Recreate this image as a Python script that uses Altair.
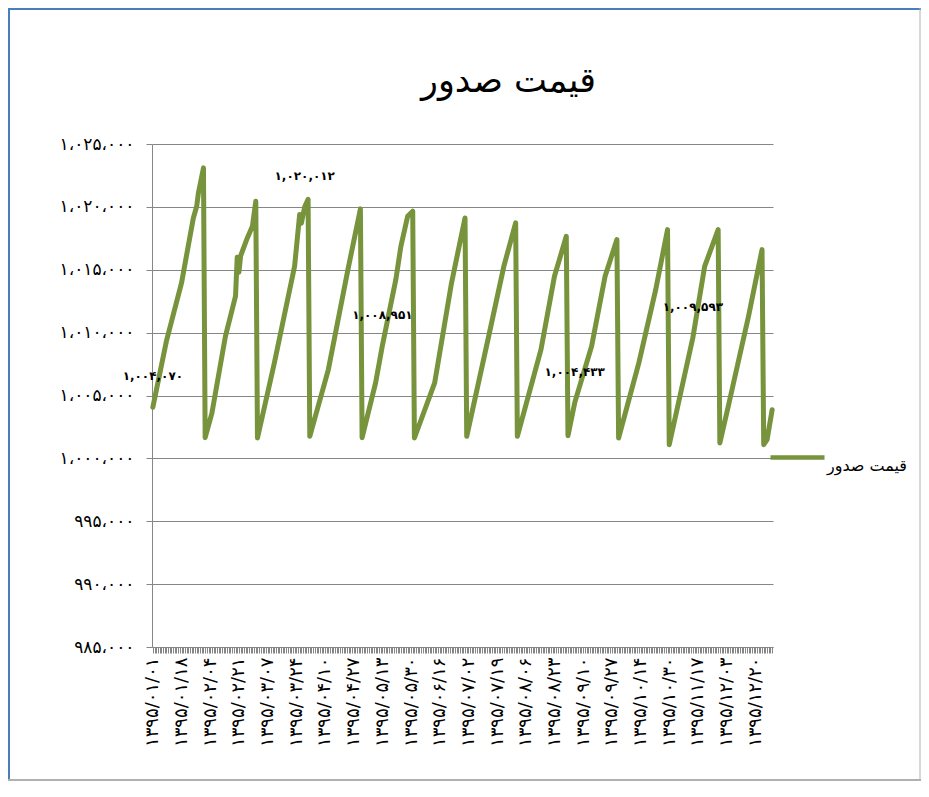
import json
import altair as alt
import pandas as pd

TITLE = "قیمت صدور"
SERIES = "قیمت صدور"
LINE_COLOR = "#77933C"
FONT = "DejaVu Sans"

# vertices of the series (day index, price)
day = [0, 8, 17, 24, 26, 27, 30,
       31, 35, 43, 49, 50, 51, 52, 56, 59, 61,
       62, 72, 84, 87, 88, 90, 92,
       93, 104, 116, 123,
       124, 132, 136, 144, 147, 151, 154,
       155, 167, 177, 185,
       186, 199, 208, 215,
       216, 230, 238, 245,
       246, 250, 260, 268, 275,
       276, 288, 298, 305,
       306, 320, 327, 335,
       336, 341, 353, 361,
       362, 364, 367]
price = [1004070, 1009300, 1013950, 1019120, 1020050, 1021110, 1023100,
         1001650, 1003600, 1009700, 1012900, 1016000, 1014800, 1016100, 1017530, 1018460, 1020450,
         1001620, 1007590, 1015270, 1019400, 1018700, 1020012, 1020600,
         1001750, 1007060, 1015270, 1019840,
         1001650, 1006000, 1008951, 1014220, 1016870, 1019250, 1019650,
         1001620, 1006000, 1013950, 1019120,
         1001750, 1009700, 1015270, 1018730,
         1001750, 1008650, 1014480, 1017660,
         1001800, 1004433, 1008910, 1014480, 1017400,
         1001620, 1007590, 1013420, 1018190,
         1001090, 1009593, 1015270, 1018190,
         1001220, 1004140, 1011300, 1016600,
         1001090, 1001500, 1003870]

n_days = 368
label_step = 17
x_tick_labels = ["۱۳۹۵/۰۱/۰۱", "۱۳۹۵/۰۱/۱۸", "۱۳۹۵/۰۲/۰۴", "۱۳۹۵/۰۲/۲۱",
                 "۱۳۹۵/۰۳/۰۷", "۱۳۹۵/۰۳/۲۴", "۱۳۹۵/۰۴/۱۰", "۱۳۹۵/۰۴/۲۷",
                 "۱۳۹۵/۰۵/۱۳", "۱۳۹۵/۰۵/۳۰", "۱۳۹۵/۰۶/۱۶", "۱۳۹۵/۰۷/۰۲",
                 "۱۳۹۵/۰۷/۱۹", "۱۳۹۵/۰۸/۰۶", "۱۳۹۵/۰۸/۲۳", "۱۳۹۵/۰۹/۱۰",
                 "۱۳۹۵/۰۹/۲۷", "۱۳۹۵/۱۰/۱۴", "۱۳۹۵/۱۰/۳۰", "۱۳۹۵/۱۱/۱۷",
                 "۱۳۹۵/۱۲/۰۳", "۱۳۹۵/۱۲/۲۰"]

y_ticks = [985000, 990000, 995000, 1000000, 1005000, 1010000, 1015000, 1020000, 1025000]
y_tick_labels = ["۹۸۵،۰۰۰", "۹۹۰،۰۰۰", "۹۹۵،۰۰۰", "۱،۰۰۰،۰۰۰", "۱،۰۰۵،۰۰۰",
                 "۱،۰۱۰،۰۰۰", "۱،۰۱۵،۰۰۰", "۱،۰۲۰،۰۰۰", "۱،۰۲۵،۰۰۰"]

label_day = [0, 90, 136, 250, 320]
label_price = [1004070, 1020012, 1008951, 1004433, 1009593]
label_text = ["۱,۰۰۴,۰۷۰", "۱,۰۲۰,۰۱۲", "۱,۰۰۸,۹۵۱", "۱,۰۰۴,۴۳۳", "۱,۰۰۹,۵۹۳"]

df = pd.DataFrame({"day": day, "price": price, "series": SERIES})
lab = pd.DataFrame({"day": label_day, "price": label_price, "text": label_text})

x_expr = ("datum.value % {s} == 0 && datum.value / {s} < {n} ? {arr}[datum.value / {s}] : ''"
          .format(s=label_step, n=len(x_tick_labels), arr=json.dumps(x_tick_labels, ensure_ascii=False)))
y_expr = "{arr}[round((datum.value - {y0}) / {st})]".format(
    arr=json.dumps(y_tick_labels, ensure_ascii=False), y0=y_ticks[0], st=y_ticks[1] - y_ticks[0])

x_scale = alt.Scale(domain=[-0.5, n_days - 0.5], nice=False, zero=False)
y_scale = alt.Scale(domain=[y_ticks[0], y_ticks[-1]], nice=False, zero=False)

x_axis = alt.Axis(values=list(range(n_days)), labelExpr=x_expr, labelAngle=-90,
                  labelOverlap=False, labelBound=False, labelFlush=False, grid=False,
                  tickSize=6, tickColor="#868686", domainColor="#868686",
                  labelFontSize=18, labelFont=FONT, labelColor="black",
                  labelPadding=4, title=None)
y_axis = alt.Axis(values=y_ticks, labelExpr=y_expr, grid=True, gridColor="#868686",
                  tickSize=6, tickColor="#868686", domainColor="#868686",
                  labelFontSize=17, labelFont=FONT, labelColor="black",
                  labelOverlap=False, labelPadding=12, title=None)

line = alt.Chart(df).mark_line(strokeWidth=5, strokeJoin="round", strokeCap="round").encode(
    x=alt.X("day:Q", scale=x_scale, axis=x_axis),
    y=alt.Y("price:Q", scale=y_scale, axis=y_axis),
    color=alt.Color("series:N", scale=alt.Scale(range=[LINE_COLOR]),
                    legend=alt.Legend(title=None, orient="none", legendX=616, legendY=284,
                                      symbolType="stroke", symbolSize=2916,
                                      symbolStrokeWidth=4.5, labelFontSize=16,
                                      labelFont=FONT, labelColor="black", labelOffset=0,
                                      labelBaseline="top", labelLimit=200, padding=0)),
)

labels = alt.Chart(lab).mark_text(fontWeight="bold", fontSize=12, dy=-31, font=FONT,
                                  color="black").encode(
    x=alt.X("day:Q", scale=x_scale, axis=x_axis),
    y=alt.Y("price:Q", scale=y_scale, axis=y_axis),
    text="text:N",
)

one = pd.DataFrame({"k": [0]})
frame_top = alt.Chart(one).mark_rule(color="#4A7EBB", strokeWidth=2).encode(
    x=alt.value(-144), x2=alt.value(769), y=alt.value(-135))
frame_left = alt.Chart(one).mark_rule(color="#4A7EBB", strokeWidth=2).encode(
    x=alt.value(-143), y=alt.value(-136), y2=alt.value(637))
frame_right = alt.Chart(one).mark_rule(color="#B0B0B0", strokeWidth=1).encode(
    x=alt.value(768), y=alt.value(-136), y2=alt.value(637))
frame_bottom = alt.Chart(one).mark_rule(color="#B0B0B0", strokeWidth=2).encode(
    x=alt.value(-144), x2=alt.value(769), y=alt.value(636))

chart = alt.layer(line, labels, frame_top, frame_left, frame_right, frame_bottom).properties(
    width=621, height=503, autosize="none",
    padding={"left": 144, "top": 136, "right": 148, "bottom": 142},
    title=alt.TitleParams(text=TITLE, fontSize=35, font=FONT, fontWeight="normal",
                          color="black", anchor="middle", dx=46, offset=-92),
).configure_view(stroke=None)

chart.save("out.html", embed_options={"renderer": "svg", "actions": False})
